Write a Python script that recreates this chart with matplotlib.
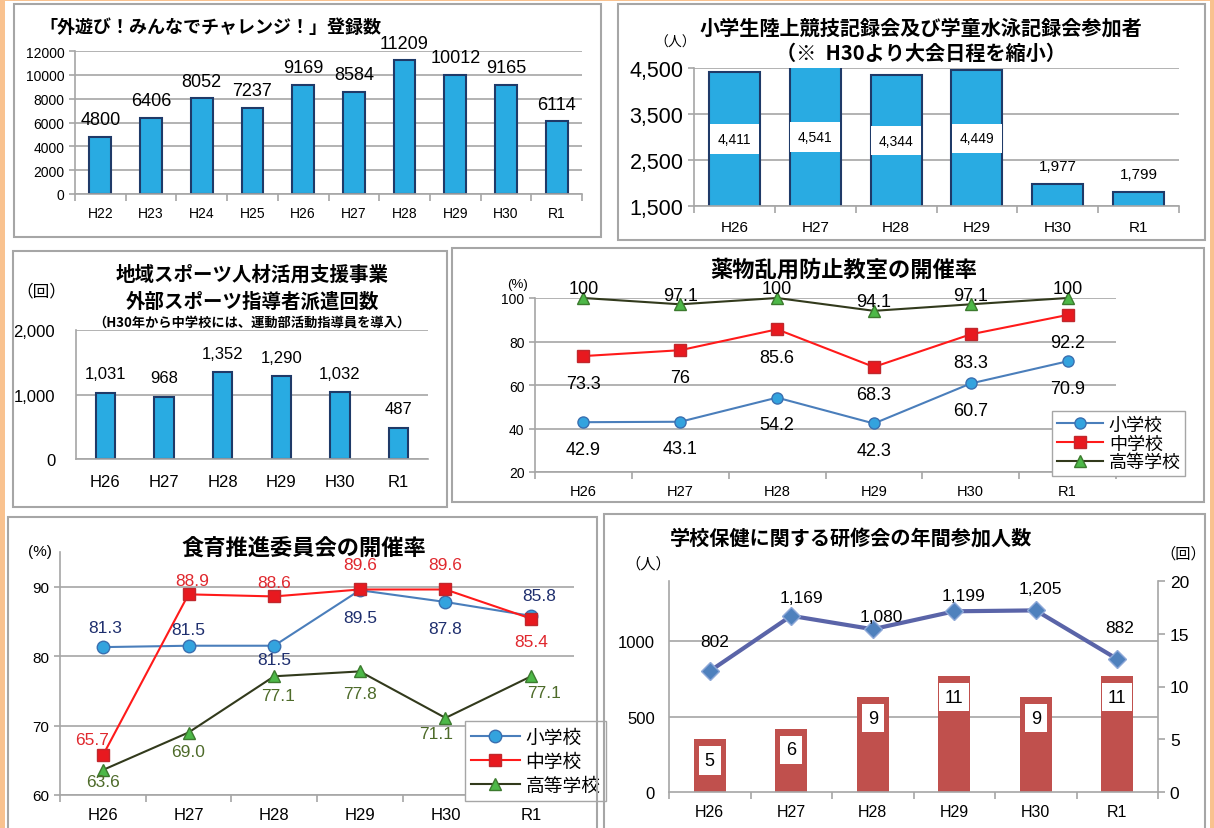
import numpy as np
import matplotlib
matplotlib.use("Agg")
import matplotlib.pyplot as plt
from matplotlib.patches import Rectangle
from matplotlib.transforms import blended_transform_factory

plt.rcParams["font.family"] = ["Liberation Sans", "Noto Sans CJK JP", "DejaVu Sans"]
JP = ["Noto Sans CJK JP", "DejaVu Sans"]

W, H = 1214, 829

# ==============================
# Data
# ==============================
years_long = ["H22", "H23", "H24", "H25", "H26", "H27", "H28", "H29", "H30", "R1"]
outdoor_counts = [4800, 6406, 8052, 7237, 9169, 8584, 11209, 10012, 9165, 6114]

years = ["H26", "H27", "H28", "H29", "H30", "R1"]
athletics_counts = [4411, 4541, 4344, 4449, 1977, 1799]
dispatch_counts = [1031, 968, 1352, 1290, 1032, 487]

school_names = ["小学校", "中学校", "高等学校"]
drug_elem = [42.9, 43.1, 54.2, 42.3, 60.7, 70.9]
drug_junior = [73.3, 76, 85.6, 68.3, 83.3, 92.2]
drug_high = [100, 97.1, 100, 94.1, 97.1, 100]

food_elem = [81.3, 81.5, 81.5, 89.5, 87.8, 85.8]
food_junior = [65.7, 88.9, 88.6, 89.6, 89.6, 85.4]
food_high = [63.6, 69.0, 77.1, 77.8, 71.1, 77.1]

seminar_people = [802, 1169, 1080, 1199, 1205, 882]
seminar_sessions = [5, 6, 9, 11, 9, 11]

# ==============================
# Styles
# ==============================
GRID = "#A6A6A6"
BAR_BLUE = "#29ABE2"
BAR_EDGE = "#1F3A68"
ORANGE = "#F9C28F"
SERIES = [
    dict(color="#4A7EBB", marker="o", mfc="#33A3DE", mec="#3A6FB0"),
    dict(color="#FF1A1A", marker="s", mfc="#E8191F", mec="#C0282D"),
    dict(color="#323A1C", marker="^", mfc="#4DB848", mec="#3C7A2E"),
]

fig = plt.figure(figsize=(W / 100, H / 100), dpi=100)


def add_ax(x0, y0, x1, y1):
    return fig.add_axes([x0 / W, 1 - y1 / H, (x1 - x0) / W, (y1 - y0) / H])


def ftext(x, y, s, **kw):
    kw.setdefault("va", "center")
    kw.setdefault("ha", "center")
    fig.text(x / W, 1 - y / H, s, **kw)


def frame(x0, y0, x1, y1, color=GRID, lw=1.5):
    fig.add_artist(Rectangle((x0 / W, 1 - y1 / H), (x1 - x0) / W, (y1 - y0) / H,
                             transform=fig.transFigure, fill=False, ec=color, lw=lw))


def style_axes(ax, labels, xfs, yfs, xpad=6):
    n = len(labels)
    ax.set_xlim(-0.5, n - 0.5)
    ax.set_xticks(range(n))
    ax.set_xticklabels(labels, fontsize=xfs)
    ax.set_xticks(np.arange(n + 1) - 0.5, minor=True)
    ax.tick_params(axis="x", which="major", length=0, pad=xpad)
    ax.tick_params(axis="x", which="minor", length=5, color=GRID, width=1.2)
    ax.tick_params(axis="y", length=4, color=GRID, width=1.2, labelsize=yfs)
    for s in ["top", "right"]:
        ax.spines[s].set_visible(False)
    for s in ["left", "bottom"]:
        ax.spines[s].set_color(GRID)
        ax.spines[s].set_linewidth(1.2)
    ax.grid(axis="y", color=GRID, lw=1.2)
    ax.set_axisbelow(True)
    ax.patch.set_alpha(0)


# page border
fig.add_artist(Rectangle((0, 0), 5 / W, 1, transform=fig.transFigure, color=ORANGE, lw=0))
fig.add_artist(Rectangle(((W - 4) / W, 0), 4 / W, 1, transform=fig.transFigure, color=ORANGE, lw=0))
fig.add_artist(Rectangle((0, 1 - 2 / H), 1, 2 / H, transform=fig.transFigure, color=ORANGE, lw=0))

# ==============================
# 1. 外遊び 登録数
# ==============================
frame(14, 5, 601, 238)
ax1 = add_ax(75, 52, 582, 195)
ax1.bar(range(len(outdoor_counts)), outdoor_counts, width=0.43,
        color=BAR_BLUE, edgecolor=BAR_EDGE, lw=1.5)
ax1.set_ylim(0, 12000)
ax1.set_yticks(range(0, 12001, 2000))
style_axes(ax1, years_long, 10, 10, xpad=9)
for i, v in enumerate(outdoor_counts):
    ax1.annotate(f"{v}", (i, v), xytext=(0, 6), textcoords="offset points",
                 ha="center", va="bottom", fontsize=13, annotation_clip=False)
ftext(39, 27, "「外遊び！みんなでチャレンジ！」登録数", ha="left",
      family=JP, weight="bold", fontsize=13)

# ==============================
# 2. 陸上・水泳 記録会参加者
# ==============================
frame(618, 5, 1205, 241)
ax2 = add_ax(694, 69, 1179, 207)
ax2.bar(range(len(athletics_counts)), athletics_counts, width=0.63,
        color=BAR_BLUE, edgecolor=BAR_EDGE, lw=1.5)
ax2.set_ylim(1500, 4500)
ax2.set_yticks([1500, 2500, 3500, 4500])
ax2.set_yticklabels([f"{t:,}" for t in [1500, 2500, 3500, 4500]])
style_axes(ax2, years, 11, 15.5, xpad=10)
lo, hi = ax2.get_ylim()
for i, v in enumerate(athletics_counts):
    if v > 3000:
        ax2.text(i, (lo + min(v, hi)) / 2, f"{v:,}", ha="center", va="center", fontsize=10,
                 bbox=dict(boxstyle="square,pad=0.55", fc="white", ec="none"))
    else:
        ax2.annotate(f"{v:,}", (i, v), xytext=(0, 8), textcoords="offset points",
                     ha="center", va="bottom", fontsize=11)
ftext(921, 28, "小学生陸上競技記録会及び学童水泳記録会参加者", family=JP, weight="bold", fontsize=14.5)
ftext(921, 53, "（※  H30より大会日程を縮小）", family=JP, weight="bold", fontsize=14.5)
ftext(675, 43, "（人）", family=JP, fontsize=10)

# ==============================
# 3. 外部スポーツ指導者派遣回数
# ==============================
frame(13, 252, 447, 508)
ax3 = add_ax(76, 331, 428, 460)
ax3.bar(range(len(dispatch_counts)), dispatch_counts, width=0.33,
        color=BAR_BLUE, edgecolor=BAR_EDGE, lw=1.5)
ax3.set_ylim(0, 2000)
ax3.set_yticks([0, 1000, 2000])
ax3.set_yticklabels([f"{t:,}" for t in [0, 1000, 2000]])
style_axes(ax3, years, 12, 12, xpad=11)
ax3.tick_params(axis="x", which="minor", length=0)
ax3.tick_params(axis="y", length=0, pad=15)
for i, v in enumerate(dispatch_counts):
    ax3.annotate(f"{v:,}", (i, v), xytext=(0, 8), textcoords="offset points",
                 ha="center", va="bottom", fontsize=12)
ftext(252, 275, "地域スポーツ人材活用支援事業", family=JP, weight="bold", fontsize=14)
ftext(252, 302, "外部スポーツ指導者派遣回数", family=JP, weight="bold", fontsize=14)
ftext(252, 323, "（H30年から中学校には、運動部活動指導員を導入）", family=JP, weight="bold", fontsize=9.5)
ftext(41, 292, "（回）", family=JP, fontsize=12)

# ==============================
# 4. 薬物乱用防止教室の開催率
# ==============================
frame(452, 249, 1204, 503)
ax4 = add_ax(535, 299, 1116, 473)
x = np.arange(len(years))
for vals, name, st in zip([drug_elem, drug_junior, drug_high], school_names, SERIES):
    ax4.plot(x, vals, color=st["color"], lw=1.5, marker=st["marker"], ms=8,
             mfc=st["mfc"], mec=st["mec"], mew=1, label=name, clip_on=False, zorder=3)
for vals, dy in [(drug_high, 6.5), (drug_junior, -20), (drug_elem, -19.5)]:
    for i, v in enumerate(vals):
        ax4.annotate(f"{v:g}", (i, v), xytext=(0, dy), textcoords="offset points",
                     ha="center", va="center", fontsize=13, annotation_clip=False)
ax4.set_ylim(20, 100)
ax4.set_yticks(range(20, 101, 20))
style_axes(ax4, years, 10.5, 10, xpad=9)
ax4.legend(loc="upper left", bbox_to_anchor=(1043 / W, 1 - 403 / H), bbox_transform=fig.transFigure,
           prop=dict(family=JP, size=13), numpoints=1, handlelength=2.6, fancybox=False,
           edgecolor=GRID, framealpha=1, borderpad=0.25, labelspacing=0.05, handletextpad=0.3)
ftext(844, 270, "薬物乱用防止教室の開催率", family=JP, weight="bold", fontsize=16)
ftext(518, 285, "(%)", fontsize=9.5)

# ==============================
# 5. 食育推進委員会の開催率
# ==============================
frame(8, 518, 597, 840)
ax5 = add_ax(60, 553, 574, 796)
for vals, name, st in zip([food_elem, food_junior, food_high], school_names, SERIES):
    ax5.plot(x, vals, color=st["color"], lw=1.5, marker=st["marker"], ms=9,
             mfc=st["mfc"], mec=st["mec"], mew=1, label=name, clip_on=False, zorder=3)
label_cols = ["#1F2F6E", "#E0282E", "#4E6B2A"]
offs = [
    [(2, 14), (0, 11.5), (0, -10), (0, -19.5), (0, -19), (6, 15)],
    [(-8, 11.5), (3, 10), (0, 10), (0, 18), (0, 18), (0, -16.5)],
    [(0, -8.5), (0, -13.5), (3, -13.5), (0, -16), (-7, -11.5), (9, -11.5)],
]
for vals, col, off in zip([food_elem, food_junior, food_high], label_cols, offs):
    for i, v in enumerate(vals):
        ax5.annotate(f"{v:.1f}", (i, v), xytext=off[i], textcoords="offset points",
                     ha="center", va="center", fontsize=12.5, color=col, annotation_clip=False)
ax5.set_ylim(60, 95)
ax5.set_yticks([60, 70, 80, 90])
style_axes(ax5, years, 12, 11, xpad=9)
ax5.legend(loc="upper left", bbox_to_anchor=(456 / W, 1 - 713 / H), bbox_transform=fig.transFigure,
           prop=dict(family=JP, size=13.5), numpoints=1, handlelength=2.6, fancybox=False,
           edgecolor=GRID, framealpha=1, borderpad=0.3, labelspacing=0.15, handletextpad=0.3)
ftext(304, 548, "食育推進委員会の開催率", family=JP, weight="bold", fontsize=16)
ftext(40, 552, "(%)", fontsize=11)

# ==============================
# 6. 学校保健に関する研修会の年間参加人数
# ==============================
frame(604, 515, 1205, 840)
ax6 = add_ax(669, 582, 1158, 793)
ax6b = ax6.twinx()
ax6.set_zorder(ax6b.get_zorder() + 1)
ax6.patch.set_visible(False)

ax6b.bar(x, seminar_sessions, width=0.39, color="#C0504D", zorder=2)
ax6b.set_ylim(0, 20)
ax6b.set_yticks(range(0, 21, 5))
for i, v in enumerate(seminar_sessions):
    ax6b.text(i, v - 2, f"{v}", ha="center", va="center", fontsize=13, zorder=3,
              bbox=dict(boxstyle="square,pad=0.32", fc="white", ec="none"))

ax6.plot(x, seminar_people, color="#5A64A8", lw=3, marker="D", ms=9,
         mfc="#4F81BD", mec="#8EA8D8", mew=1, clip_on=False, zorder=3)
ax6.set_ylim(0, 1400)
ax6.set_yticks([0, 500, 1000])
style_axes(ax6, years, 11.5, 12, xpad=9)
ax6.grid(False)
gt = blended_transform_factory(ax6b.transAxes, ax6.transData)
for g in [500, 1000]:
    ax6b.plot([0, 1], [g, g], transform=gt, color=GRID, lw=1.2, zorder=1)
ax6.tick_params(axis="y", length=0, pad=10)
people_offs = [(3.5, 21), (7, 13), (6, 9.5), (6.5, 11.5), (3.5, 16), (2, 23)]
for i, v in enumerate(seminar_people):
    ax6.annotate(f"{v:,}", (i, v), xytext=people_offs[i], textcoords="offset points",
                 ha="center", va="center", fontsize=12.5, annotation_clip=False)

for s in ["top", "left", "bottom"]:
    ax6b.spines[s].set_visible(False)
ax6b.spines["right"].set_color(GRID)
ax6b.spines["right"].set_linewidth(1.2)
ax6b.tick_params(axis="y", length=5, color=GRID, width=1.2, labelsize=12.5)

ftext(670, 538, "学校保健に関する研修会の年間参加人数", ha="left", family=JP, weight="bold", fontsize=14.5)
ftext(648, 564, "（人）", family=JP, fontsize=11)
ftext(1183, 554, "（回）", family=JP, fontsize=11)

fig.savefig("out.png", dpi=100, facecolor="white")
